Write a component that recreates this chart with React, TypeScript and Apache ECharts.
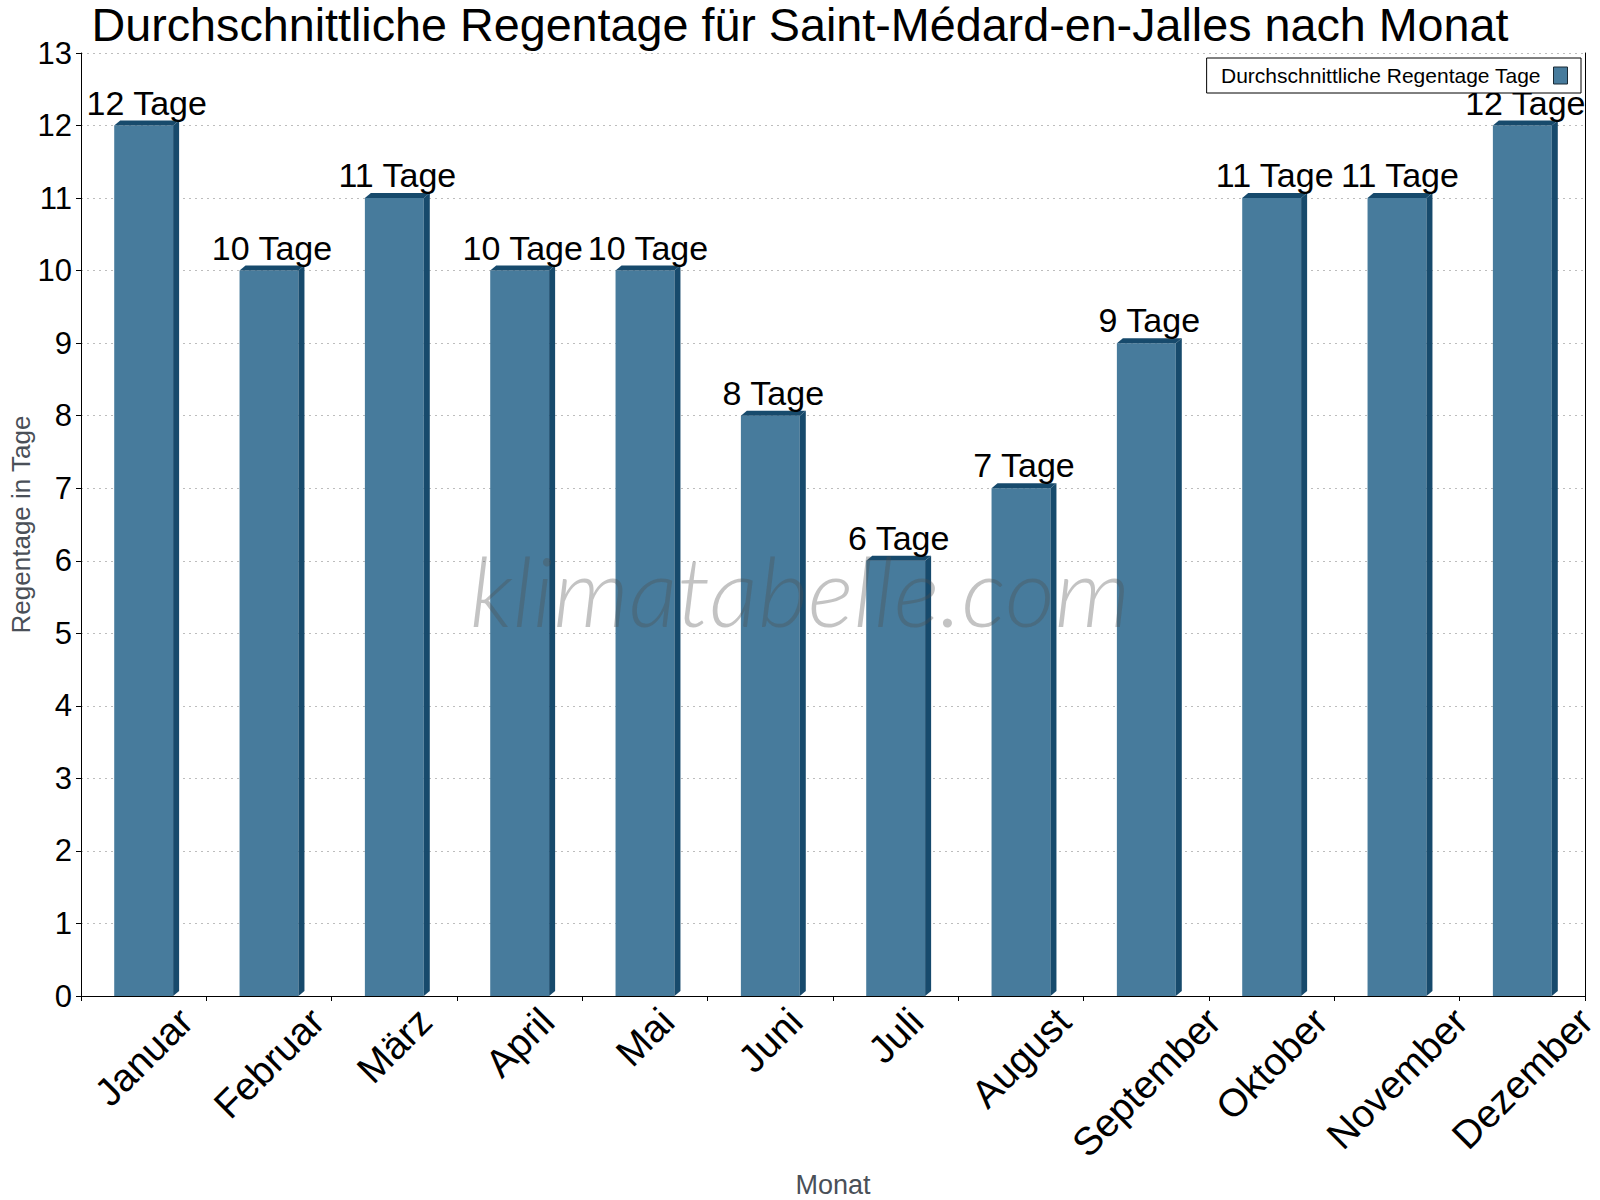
import React, { useEffect, useRef } from 'react';
import * as echarts from 'echarts';

const titleText = 'Durchschnittliche Regentage für Saint-Médard-en-Jalles nach Monat';
const seriesName = 'Durchschnittliche Regentage Tage';
const months = ['Januar', 'Februar', 'März', 'April', 'Mai', 'Juni', 'Juli', 'August', 'September', 'Oktober', 'November', 'Dezember'];
const rainDays = [12, 10, 11, 10, 10, 8, 6, 7, 9, 11, 11, 12];
const yMin = 0;
const yMax = 13;
const yInterval = 1;

const FONT = '"Liberation Sans", Arial, Helvetica, sans-serif';
const FRONT = '#477b9c';
const DARK = '#174a6c';
const XLABEL_SIZE = 39;

function measure(text: string, size: number): number {
  const c = document.createElement('canvas');
  const ctx = c.getContext('2d');
  if (!ctx) return text.length * size * 0.5;
  ctx.font = `${size}px "Liberation Sans", Arial, sans-serif`;
  return ctx.measureText(text).width;
}

export default function App() {
  const ref = useRef<HTMLDivElement>(null);

  useEffect(() => {
    document.body.style.margin = '0';
    if (!ref.current) return;
    const chart = echarts.init(ref.current, null, { renderer: 'svg' });

    const rich: Record<string, any> = {};
    months.forEach((m, i) => {
      const w = measure(m, XLABEL_SIZE);
      const h = XLABEL_SIZE;
      const p = 0.5 * (w + h);
      rich['m' + i] = {
        fontSize: XLABEL_SIZE,
        fontFamily: FONT,
        color: '#000',
        padding: [p, p, 0, 0],
      };
    });

    const option: any = {
      animation: false,
      backgroundColor: '#fff',
      title: {
        text: titleText,
        left: 'center',
        top: -4,
        textStyle: { fontSize: 46.7, fontWeight: 'normal', color: '#000', fontFamily: FONT },
      },
      legend: {
        right: 19,
        top: 58,
        align: 'right',
        backgroundColor: '#fff',
        borderColor: '#000',
        borderWidth: 1,
        borderRadius: 0,
        padding: [7, 13, 7, 14],
        itemWidth: 14,
        itemHeight: 17,
        itemStyle: { color: FRONT, borderColor: '#1a2a35', borderWidth: 1 },
        textStyle: { fontSize: 21, color: '#000', fontFamily: FONT, padding: [0, 8, 0, 0] },
        data: [{ name: seriesName, icon: 'rect' }],
      },
      grid: { left: 81, right: 15, top: 53, bottom: 204, containLabel: false, outerBoundsMode: 'none' },
      xAxis: {
        type: 'category',
        data: months,
        boundaryGap: true,
        name: 'Monat',
        nameLocation: 'middle',
        nameGap: 175,
        nameMoveOverlap: false,
        nameTextStyle: { fontSize: 27, color: '#4a5058', fontFamily: FONT },
        axisLine: { show: true, lineStyle: { color: '#000', width: 1 } },
        axisTick: { show: true, length: 5, lineStyle: { color: '#000' } },
        axisLabel: {
          interval: 0,
          rotate: 45,
          align: 'center',
          verticalAlign: 'middle',
          margin: 5,
          fontSize: XLABEL_SIZE,
          fontFamily: FONT,
          color: '#000',
          formatter: (v: string, i: number) => `{m${i}|${v}}`,
          rich,
        },
        splitLine: { show: false },
      },
      yAxis: [
        {
          type: 'value',
          min: yMin,
          max: yMax,
          interval: yInterval,
          name: 'Regentage in Tage',
          nameLocation: 'middle',
          nameGap: 47,
          nameMoveOverlap: false,
          nameTextStyle: { fontSize: 26, color: '#4a5058', fontFamily: FONT },
          axisLine: { show: true, lineStyle: { color: '#000', width: 1 } },
          axisTick: { show: true, length: 5, lineStyle: { color: '#000' } },
          axisLabel: { fontSize: 31, color: '#000', fontFamily: FONT, margin: 9 },
          splitLine: { show: true, lineStyle: { color: '#bdbdbd', type: [2, 4], width: 1 } },
        },
        {
          type: 'value',
          position: 'right',
          min: yMin,
          max: yMax,
          interval: yInterval,
          axisLine: { show: true, onZero: false, lineStyle: { color: '#000', width: 1 } },
          axisTick: { show: false },
          axisLabel: { show: false },
          splitLine: { show: false },
        },
      ],
      series: [
        {
          name: seriesName,
          type: 'custom',
          itemStyle: { color: FRONT },
          encode: { x: 0, y: 1 },
          data: rainDays.map((v, i) => [i, v]),
          renderItem: (params: any, api: any) => {
            const idx = api.value(0);
            const v = api.value(1);
            const top = api.coord([idx, v]);
            const base = api.coord([idx, 0]);
            const bw = api.size([1, 0])[0] * 0.47;
            const x0 = top[0] - bw / 2;
            const x1 = top[0] + bw / 2;
            const dx = 6;
            const dy = 5;
            return {
              type: 'group',
              children: [
                {
                  type: 'rect',
                  shape: { x: x0, y: top[1], width: bw, height: base[1] - top[1] },
                  style: { fill: FRONT },
                },
                {
                  type: 'polygon',
                  shape: { points: [[x1, top[1]], [x1 + dx, top[1] - dy], [x1 + dx, base[1] - dy], [x1, base[1]]] },
                  style: { fill: DARK },
                },
                {
                  type: 'polygon',
                  shape: { points: [[x0, top[1]], [x0 + dx, top[1] - dy], [x1 + dx, top[1] - dy], [x1, top[1]]] },
                  style: { fill: DARK },
                },
                {
                  type: 'text',
                  x: top[0] + 3,
                  y: top[1] - dy - 1,
                  style: {
                    text: `${v} Tage`,
                    fontSize: 34,
                    fontFamily: FONT,
                    fill: '#000',
                    align: 'center',
                    verticalAlign: 'bottom',
                  },
                },
              ],
            };
          },
        },
      ],
      graphic: [
        {
          type: 'text',
          x: 800,
          y: 589,
          z: 100,
          silent: true,
          style: {
            text: 'klimatabelle.com',
            fontSize: 97,
            fontStyle: 'italic',
            fontWeight: 300,
            fontFamily: 'Lato, Roboto, "Liberation Sans", sans-serif',
            fill: 'rgba(80,80,80,0.34)',
            align: 'center',
            verticalAlign: 'middle',
          },
        },
      ],
    };

    chart.setOption(option);
    return () => chart.dispose();
  }, []);

  return <div ref={ref} style={{ width: 1600, height: 1200 }} />;
}
